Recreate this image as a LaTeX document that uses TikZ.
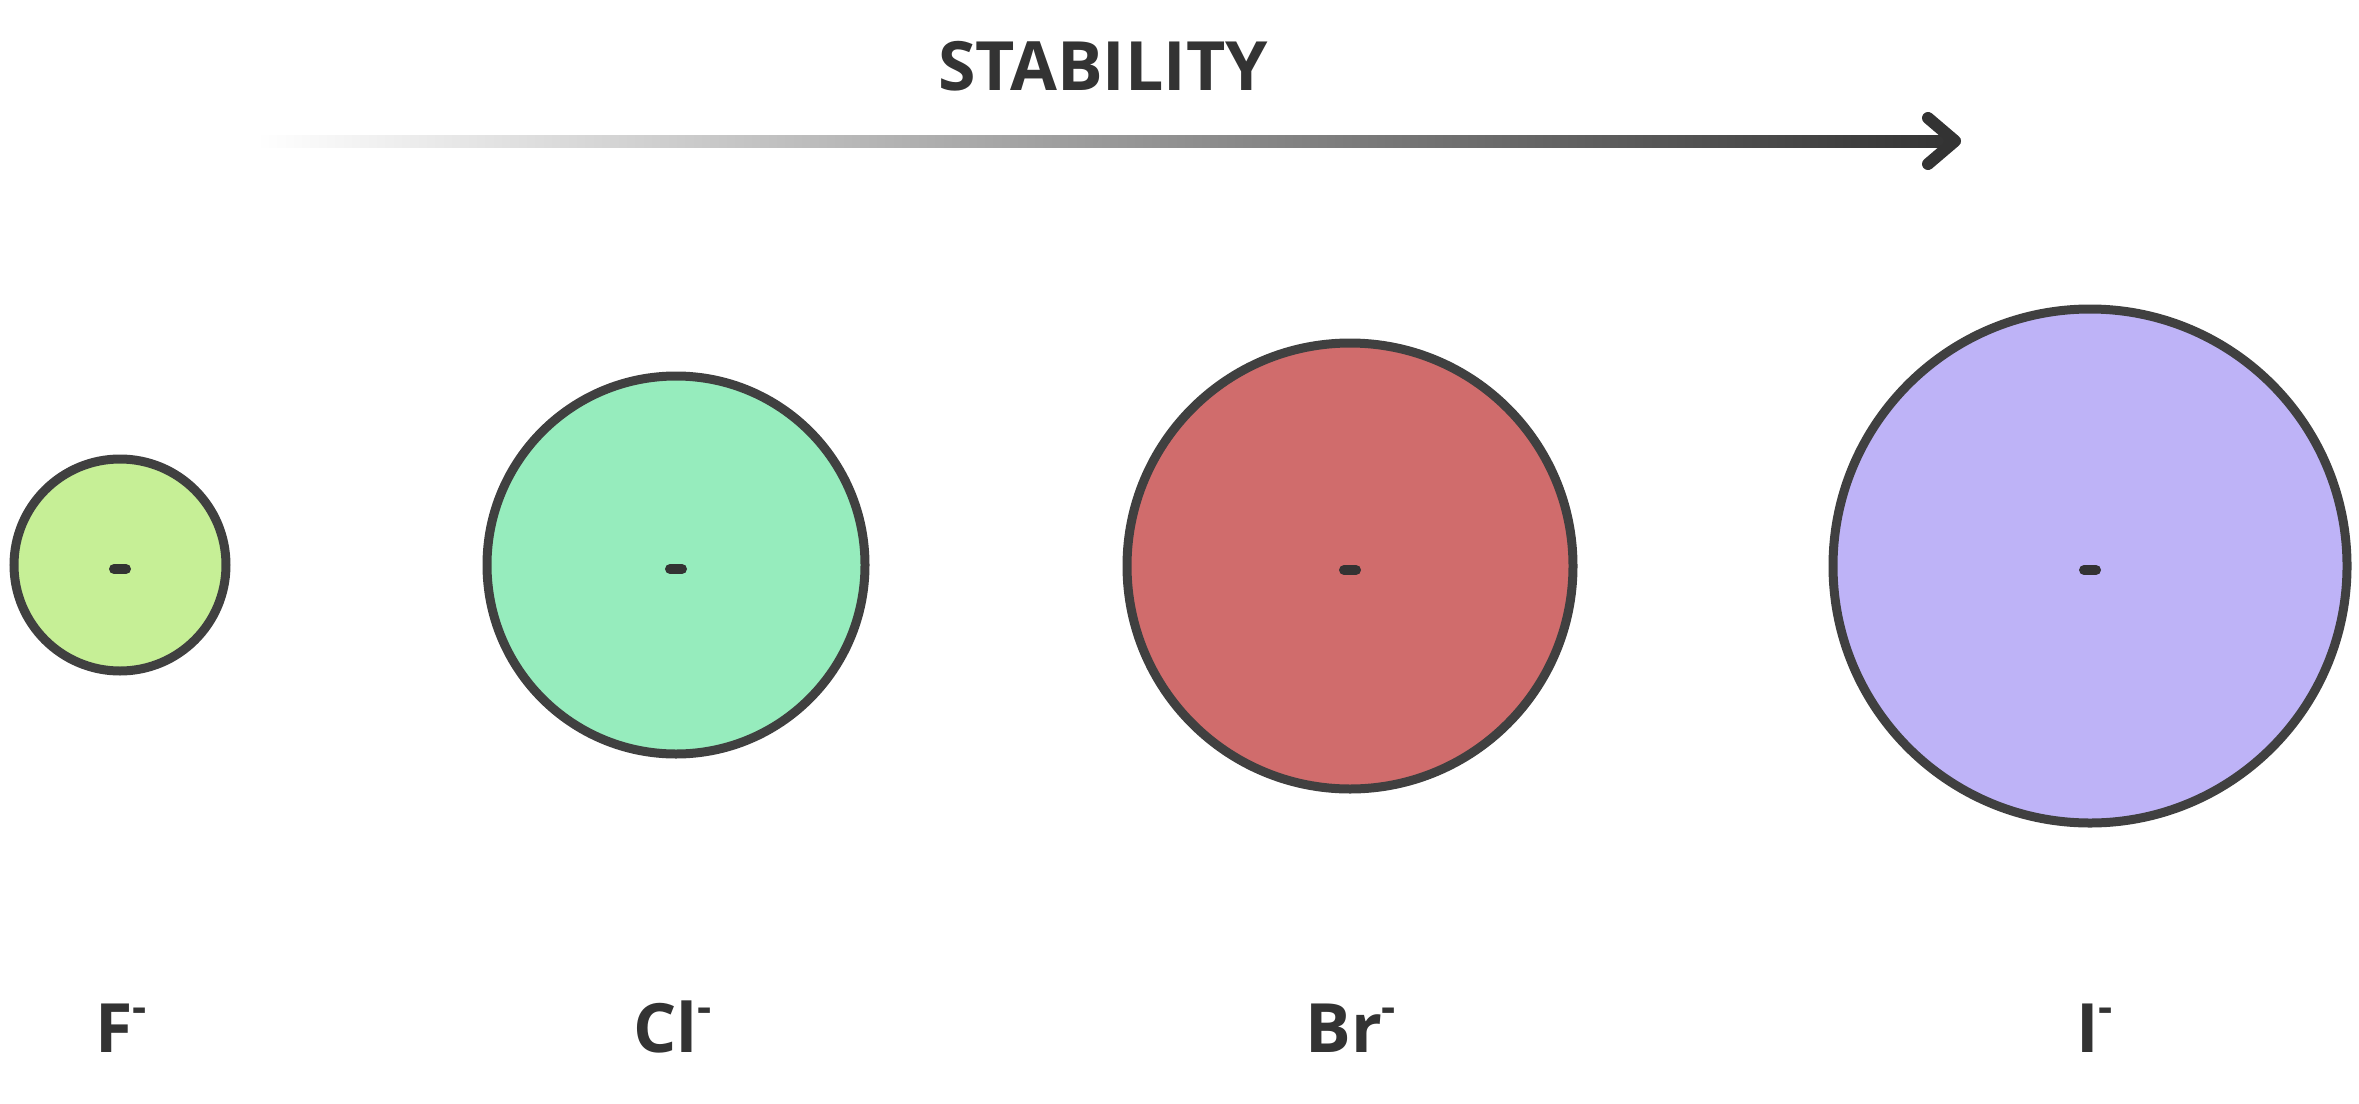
\documentclass[tikz,border=0pt]{standalone}
\usepackage{fontspec}
\setmainfont{Open Sans}
\definecolor{ringc}{HTML}{404040}
\definecolor{inkc}{HTML}{333333}
\definecolor{fF}{HTML}{C6EF96}
\definecolor{fCl}{HTML}{96ECBD}
\definecolor{fBr}{HTML}{D06C6C}
\definecolor{fI}{HTML}{BEB3F7}
\newcommand{\chg}{{\fontsize{22}{22}\selectfont\raisebox{15pt}{-}}}
\begin{document}
\begin{tikzpicture}[x=0.5pt,y=-0.5pt,
  ion/.style={circle, draw=ringc, line width=4.5pt, inner sep=0pt},
  chargedash/.style={draw=inkc, line width=5pt, line cap=round},
  lbl/.style={text=inkc, font=\fontsize{34}{40}\selectfont\bfseries, anchor=base west, inner sep=0pt},
  title/.style={text=inkc, font=\fontsize{34}{40}\selectfont\bfseries, anchor=base, inner sep=0pt}]
\useasboundingbox (0,0) rectangle (2359,1103);
% arrow
\coordinate (as) at (256,141);
\coordinate (ae) at (1955,141);
\shade[left color=white, right color=inkc] ([yshift=-3pt]as) rectangle ([yshift=3pt]ae);
\draw[inkc, line width=6pt, line cap=round, line join=round] ([shift={(-27,-23)}]ae) -- (ae) -- ([shift={(-27,23)}]ae);
\node[title] (stab) at (1103,90) {STABILITY};
% ions
\node[ion, fill=fF, minimum size=106pt] (F) at (120,565) {};
\node[ion, fill=fCl, minimum size=189pt] (Cl) at (676,565) {};
\node[ion, fill=fBr, minimum size=223pt] (Br) at (1350,566) {};
\node[ion, fill=fI, minimum size=257pt] (I) at (2090,566) {};
\foreach \n in {F,Cl,Br,I}{
  \draw[chargedash] ([xshift=-3pt,yshift=-2pt]\n.center) -- ([xshift=3pt,yshift=-2pt]\n.center);
}
% labels
\node[lbl] (lF) at (95,1052) {F\chg};
\node[lbl] (lCl) at (633,1052) {Cl\chg};
\node[lbl] (lBr) at (1305,1052) {Br\chg};
\node[lbl] (lI) at (2076,1052) {I\chg};
\end{tikzpicture}
\end{document}
